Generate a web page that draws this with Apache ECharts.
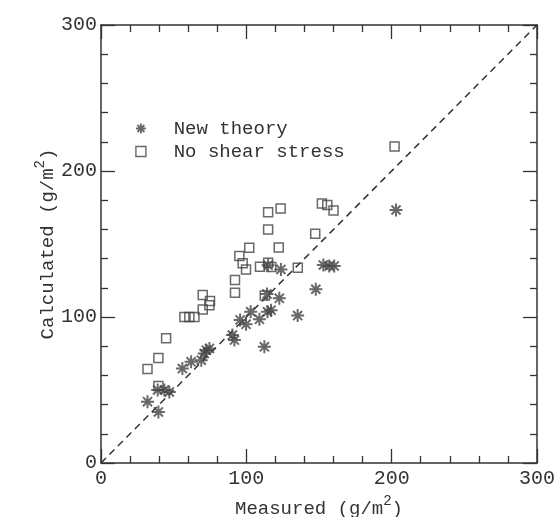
<!DOCTYPE html>
<html>
<head>
<meta charset="utf-8">
<script src="https://cdn.jsdelivr.net/npm/echarts@6/dist/echarts.min.js"></script>
<style>
  html, body { margin: 0; padding: 0; background: #fff; }
  #chart { width: 560px; height: 517px; }
</style>
</head>
<body>
<div id="chart"></div>
<script>
/* ----------  data  ---------- */
const seriesNames = ['New theory', 'No shear stress'];

// New theory (asterisks)
const newX = [32, 39.5, 39, 43.6, 47, 56, 62, 69, 71, 74.6, 72.5, 90.4, 91.8, 95.7, 99.8,
  103, 109, 112.4, 114.6, 117, 114.2, 122.7, 123.8, 115, 135.3, 147.8, 153, 157, 160.5, 203];
const newY = [42, 35, 50, 50, 48.7, 64.7, 69.3, 70.4, 75, 78.5, 77.3, 87.6, 84.2, 98, 95,
  103.6, 98.4, 79.6, 103.6, 104.7, 115.7, 112.8, 132.6, 135.4, 101, 119, 135.6, 135, 135, 173.3];

// No shear stress (squares)
const noShearX = [32, 39.5, 44.8, 39.5, 57.4, 60.8, 64.3, 70, 70, 75, 74.6, 92.2, 92.2, 95.2,
  97.5, 99.8, 102, 109.4, 115, 117.2, 115, 115, 123.6, 122.3, 112.7, 135.4, 147.4, 152, 155.7, 160, 202];
const noShearY = [64.3, 72, 85.5, 52.8, 100, 100, 100, 105.2, 115, 111, 108, 116.6, 125.3, 141.8,
  136.8, 132.6, 147.5, 134.4, 137.2, 134.2, 160, 171.7, 174.3, 147.6, 114.7, 133.7, 157, 177.8, 176.7, 173, 216.7];

const refLine = [[0, 0], [300, 300]];

/* ----------  styles  ---------- */
const ink = '#444';
const monoFont = '"Liberation Mono", "DejaVu Sans Mono", monospace';
const starPath = 'path://M0,5L10,5M5,0L5,10M1.5,1.5L8.5,8.5M8.5,1.5L1.5,8.5';

function zip(xs, ys) {
  return xs.map((x, i) => [x, ys[i]]);
}

function axisCommon(show, margin) {
  return {
    type: 'value',
    min: 0,
    max: 300,
    interval: 100,
    axisLine: { show: true, onZero: false, lineStyle: { color: '#333', width: 1.5 } },
    axisTick: { show: true, inside: true, length: 14, lineStyle: { color: '#333', width: 1.3 } },
    minorTick: { show: true, splitNumber: 5, length: 7, lineStyle: { color: '#333', width: 1.3 } },
    splitLine: { show: false },
    minorSplitLine: { show: false },
    axisLabel: {
      show: show,
      margin: margin || 8,
      color: '#333',
      fontFamily: monoFont,
      fontSize: 20,
      formatter: v => String(v),
    },
  };
}

const nameRich = {
  a: { fontFamily: monoFont, fontSize: 19, color: '#333' },
  s: { fontFamily: monoFont, fontSize: 14, color: '#333', padding: [0, 0, 16, 0] },
};

const chart = echarts.init(document.getElementById('chart'));

chart.setOption({
  backgroundColor: '#fff',
  animation: false,
  grid: { left: 101, right: 23, top: 25, bottom: 54, outerBoundsMode: 'none' },
  legend: {
    orient: 'vertical',
    left: 130,
    top: 114,
    itemWidth: 10,
    itemHeight: 10,
    itemGap: 4,
    textStyle: { fontFamily: monoFont, fontSize: 19, color: '#333' },
    formatter: name => '  ' + name,
    data: [
      { name: seriesNames[0], itemStyle: { borderWidth: 1.8 } },
      { name: seriesNames[1], itemStyle: { borderWidth: 1.4 } },
    ],
  },
  xAxis: [
    Object.assign(axisCommon(true, 6), {
      position: 'bottom',
      name: '{a|Measured (g/m}{s|2}{a|)}',
      nameLocation: 'middle',
      nameGap: 30,
      nameTextStyle: { rich: nameRich },
    }),
    Object.assign(axisCommon(false), { position: 'top' }),
  ],
  yAxis: [
    Object.assign(axisCommon(true, 4), {
      position: 'left',
      name: '{a|Calculated (g/m}{s|2}{a|)}',
      nameLocation: 'middle',
      nameGap: 38,
      nameMoveOverlap: false,
      nameTextStyle: { rich: nameRich },
    }),
    Object.assign(axisCommon(false), { position: 'right' }),
  ],
  series: [
    {
      name: seriesNames[0],
      type: 'scatter',
      symbol: starPath,
      symbolSize: 13,
      itemStyle: { color: 'rgba(0,0,0,0)', borderColor: ink, borderWidth: 2 },
      data: zip(newX, newY),
      z: 3,
    },
    {
      name: seriesNames[1],
      type: 'scatter',
      symbol: 'rect',
      symbolSize: 9,
      itemStyle: { color: 'rgba(0,0,0,0)', borderColor: ink, borderWidth: 1.5 },
      data: zip(noShearX, noShearY),
      z: 2,
    },
    {
      type: 'line',
      data: refLine,
      symbol: 'none',
      silent: true,
      lineStyle: { color: '#333', width: 1.5, type: [7, 5] },
      z: 1,
    },
  ],
});
</script>
</body>
</html>
